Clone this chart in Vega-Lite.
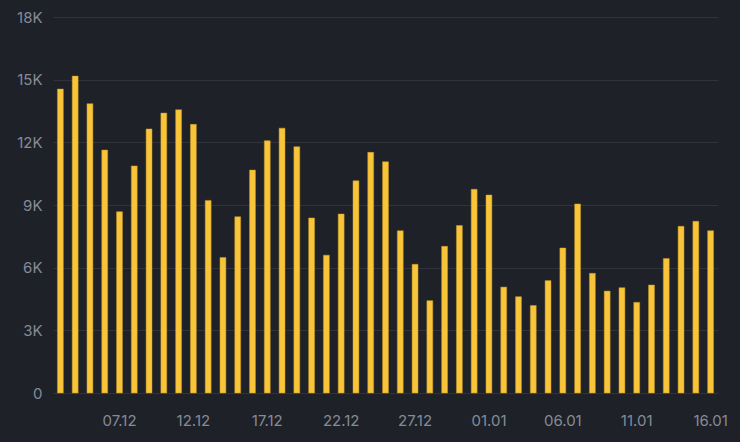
{
  "$schema": "https://vega.github.io/schema/vega-lite/v6.json",
  "width": 665,
  "height": 376,
  "autosize": "none",
  "padding": {"left": 53, "top": 17, "right": 22, "bottom": 49},
  "background": "#1f2128",
  "config": {
    "view": {"stroke": null},
    "font": "Inter"
  },
  "data": {
    "values": [
      {"d": "03.12", "v": 14550},
      {"d": "04.12", "v": 15170},
      {"d": "05.12", "v": 13850},
      {"d": "06.12", "v": 11630},
      {"d": "07.12", "v": 8680},
      {"d": "08.12", "v": 10870},
      {"d": "09.12", "v": 12640},
      {"d": "10.12", "v": 13400},
      {"d": "11.12", "v": 13560},
      {"d": "12.12", "v": 12860},
      {"d": "13.12", "v": 9220},
      {"d": "14.12", "v": 6490},
      {"d": "15.12", "v": 8440},
      {"d": "16.12", "v": 10670},
      {"d": "17.12", "v": 12080},
      {"d": "18.12", "v": 12680},
      {"d": "19.12", "v": 11790},
      {"d": "20.12", "v": 8380},
      {"d": "21.12", "v": 6600},
      {"d": "22.12", "v": 8570},
      {"d": "23.12", "v": 10160},
      {"d": "24.12", "v": 11520},
      {"d": "25.12", "v": 11070},
      {"d": "26.12", "v": 7770},
      {"d": "27.12", "v": 6160},
      {"d": "28.12", "v": 4420},
      {"d": "29.12", "v": 7020},
      {"d": "30.12", "v": 8020},
      {"d": "31.12", "v": 9750},
      {"d": "01.01", "v": 9480},
      {"d": "02.01", "v": 5070},
      {"d": "03.01", "v": 4610},
      {"d": "04.01", "v": 4190},
      {"d": "05.01", "v": 5380},
      {"d": "06.01", "v": 6940},
      {"d": "07.01", "v": 9050},
      {"d": "08.01", "v": 5730},
      {"d": "09.01", "v": 4880},
      {"d": "10.01", "v": 5040},
      {"d": "11.01", "v": 4340},
      {"d": "12.01", "v": 5170},
      {"d": "13.01", "v": 6440},
      {"d": "14.01", "v": 7980},
      {"d": "15.01", "v": 8220},
      {"d": "16.01", "v": 7770}
    ]
  },
  "mark": {"type": "bar", "color": "#f8c43a", "stroke": "#c99a25", "strokeWidth": 0.5},
  "encoding": {
    "x": {
      "field": "d",
      "type": "ordinal",
      "sort": null,
      "scale": {"paddingInner": 0.6, "paddingOuter": 0.3},
      "axis": {
        "title": null,
        "values": ["07.12", "12.12", "17.12", "22.12", "27.12", "01.01", "06.01", "11.01", "16.01"],
        "labelAngle": 0,
        "ticks": false,
        "domain": false,
        "labelPadding": 20,
        "labelColor": "#848b98",
        "labelFontSize": 15,
        "labelFont": "Inter"
      }
    },
    "y": {
      "field": "v",
      "type": "quantitative",
      "scale": {"domain": [0, 18000], "nice": false},
      "axis": {
        "title": null,
        "values": [0, 3000, 6000, 9000, 12000, 15000, 18000],
        "labelExpr": "datum.value == 0 ? '0' : (datum.value / 1000) + 'K'",
        "ticks": false,
        "domain": false,
        "labelPadding": 11,
        "labelColor": "#848b98",
        "labelFontSize": 15,
        "labelFont": "Inter",
        "gridColor": "#30333c",
        "gridWidth": 1
      }
    }
  }
}
